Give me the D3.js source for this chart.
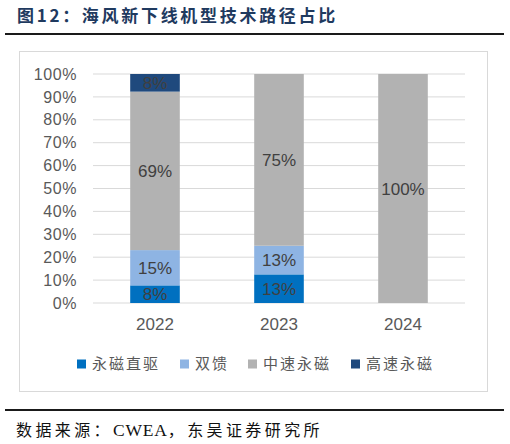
<!DOCTYPE html>
<html>
<head>
<meta charset="utf-8">
<script src="https://cdn.jsdelivr.net/npm/d3@7"></script>
<style>
  body { margin: 0; background: #fff; }
  svg { display: block; }
</style>
</head>
<body>
<div id="chart"></div>
<script>
// data
const years = ['2022', '2023', '2024'];
const seriesNames = ['永磁直驱', '双馈', '中速永磁', '高速永磁'];
const directDrive = [7.7, 12.5, 0];
const doublyFed = [15.4, 12.5, 0];
const midSpeed = [69.2, 75, 100];
const highSpeed = [7.7, 0, 0];
const yTicks = [0, 10, 20, 30, 40, 50, 60, 70, 80, 90, 100];
const colors = ['#0070C0', '#8EB4E3', '#B2B2B2', '#1F497D'];

const W = 510, H = 444;
const margin = { top: 74, right: 45, bottom: 141, left: 93 },
    width = W - margin.left - margin.right,
    height = H - margin.top - margin.bottom;

let svg = d3.select('#chart')
    .append('svg')
    .attr('width', W)
    .attr('height', H);

// title + rules
svg.append('text')
    .attr('x', 17)
    .attr('y', 22)
    .attr('font-family', '"Noto Sans CJK SC", sans-serif')
    .attr('font-weight', 'bold')
    .attr('font-size', 17)
    .attr('letter-spacing', 2.7)
    .attr('fill', '#1F3A5F')
    .text('图12：海风新下线机型技术路径占比');

svg.append('line')
    .attr('x1', 5).attr('x2', 504)
    .attr('y1', 34).attr('y2', 34)
    .attr('stroke', '#1a1a1a').attr('stroke-width', 2);

svg.append('rect')
    .attr('x', 19.5).attr('y', 51.5)
    .attr('width', 468).attr('height', 340)
    .attr('fill', 'none')
    .attr('stroke', '#D9D9D9');

svg.append('line')
    .attr('x1', 5).attr('x2', 504)
    .attr('y1', 410).attr('y2', 410)
    .attr('stroke', '#1a1a1a').attr('stroke-width', 2);

// source line, latin part kept tighter like the original
const source = svg.append('text')
    .attr('x', 16)
    .attr('y', 436)
    .attr('font-family', '"Liberation Serif", "Noto Sans CJK SC", serif')
    .attr('font-size', 16)
    .attr('fill', '#111');
source.append('tspan').attr('letter-spacing', 3.4).text('数据来源：');
source.append('tspan').attr('letter-spacing', 0.8).attr('font-size', 17.5).text('CWEA');
source.append('tspan').attr('letter-spacing', 3.4).text('，东吴证券研究所');

let group = svg.append('g')
    .attr('transform', 'translate(' + margin.left + ',' + margin.top + ')');

const x = d3.scaleBand()
    .domain(years)
    .range([0, width])
    .paddingInner(0.6)
    .paddingOuter(0.3);

const y = d3.scaleLinear()
    .domain([0, 100])
    .range([height, 0]);

// gridlines
group.append('g')
    .selectAll('line')
    .data(yTicks)
    .join('line')
    .attr('x1', 0).attr('x2', width)
    .attr('y1', d => y(d)).attr('y2', d => y(d))
    .attr('stroke', '#D9D9D9')
    .attr('stroke-width', 1);

const yAxis = d3.axisLeft(y)
    .tickValues(yTicks)
    .tickSize(0)
    .tickPadding(16)
    .tickFormat(d => d + '%');

group.append('g')
    .attr('class', 'axis y-axis')
    .call(yAxis)
    .call(g => g.select('.domain').remove())
    .selectAll('text')
    .attr('font-family', 'Arial, "Liberation Sans", sans-serif')
    .attr('font-size', 16)
    .attr('letter-spacing', 0.6)
    .attr('fill', '#595959');

const xAxis = d3.axisBottom(x)
    .tickSize(0)
    .tickPadding(15);

group.append('g')
    .attr('class', 'axis x-axis')
    .attr('transform', `translate(0, ${height})`)
    .call(xAxis)
    .call(g => g.select('.domain').remove())
    .selectAll('text')
    .attr('font-family', 'Arial, "Liberation Sans", sans-serif')
    .attr('font-size', 17)
    .attr('fill', '#595959');

// stack
const table = years.map((yr, i) => ({
    year: yr,
    '永磁直驱': directDrive[i],
    '双馈': doublyFed[i],
    '中速永磁': midSpeed[i],
    '高速永磁': highSpeed[i]
}));

const stacked = d3.stack().keys(seriesNames)(table);

const layers = group.selectAll('.layer')
    .data(stacked)
    .join('g')
    .attr('class', 'layer')
    .attr('fill', (d, i) => colors[i]);

layers.selectAll('rect')
    .data(d => d.filter(s => s[1] - s[0] > 0))
    .join('rect')
    .attr('x', d => x(d.data.year))
    .attr('y', d => y(d[1]))
    .attr('width', x.bandwidth())
    .attr('height', d => y(d[0]) - y(d[1]));

layers.selectAll('text')
    .data(d => d.filter(s => s[1] - s[0] > 0))
    .join('text')
    .attr('x', d => x(d.data.year) + x.bandwidth() / 2)
    .attr('y', d => (y(d[0]) + y(d[1])) / 2)
    .attr('dy', '0.36em')
    .attr('text-anchor', 'middle')
    .attr('font-family', 'Arial, "Liberation Sans", sans-serif')
    .attr('font-size', 17)
    .attr('fill', '#404040')
    .text(d => Math.round(d[1] - d[0]) + '%');

// legend
const legendX = [77, 180, 248, 351];
const legend = svg.append('g')
    .selectAll('g')
    .data(seriesNames)
    .join('g')
    .attr('transform', (d, i) => `translate(${legendX[i]}, 364)`);

legend.append('rect')
    .attr('x', 0).attr('y', -4.5)
    .attr('width', 9).attr('height', 9)
    .attr('fill', (d, i) => colors[i]);

legend.append('text')
    .attr('x', 15)
    .attr('dy', '0.36em')
    .attr('font-family', '"Noto Sans CJK SC", sans-serif')
    .attr('font-size', 15)
    .attr('letter-spacing', 2)
    .attr('fill', '#595959')
    .text(d => d);
</script>
</body>
</html>
